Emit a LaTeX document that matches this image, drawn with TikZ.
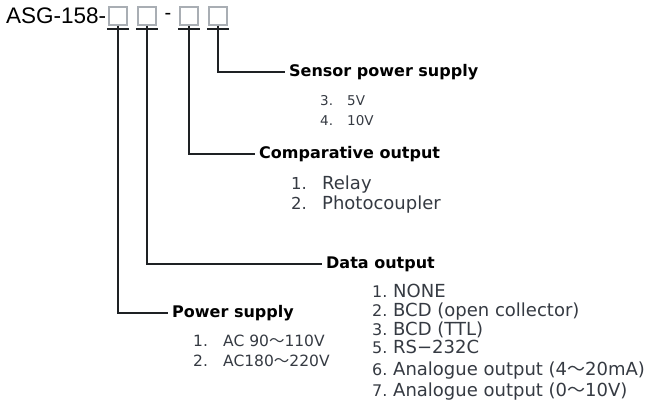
\documentclass[tikz,border=0pt]{standalone}
\usepackage{fontspec}
\usepackage{array}
\setmainfont{DejaVu Sans}
\newfontfamily\codefont{Liberation Sans}
\newfontfamily\cjkfont{Noto Sans CJK JP}
\newcommand{\wave}{{\cjkfont ～}}
\usetikzlibrary{positioning}
\definecolor{LineDark}{HTML}{1E2124}
\definecolor{BoxGray}{HTML}{A9AEB4}
\definecolor{ItemGray}{HTML}{353A42}

\begin{document}
\begin{tikzpicture}[
x=1pt,y=-1pt,
digit/.style={draw=BoxGray,line width=1.1pt,minimum width=18pt,minimum height=18pt,inner sep=0pt},
uline/.style={line width=2.4pt,LineDark},
conn/.style={line width=1.6pt,LineDark},
head/.style={font=\bfseries\fontsize{16}{19}\selectfont,inner sep=4pt,anchor=west},
items/.style={text=ItemGray,inner sep=0pt,anchor=base west}
]
\useasboundingbox (0,0) rectangle (650,407);
% model code
\node[font=\codefont\fontsize{22.5}{24}\selectfont,anchor=west,inner sep=0pt] (code) at (6,16) {ASG-158-};
\node[digit] (d1) at (118,16) {};
\node[digit] (d2) at (147,16) {};
\node[font=\codefont\fontsize{20}{22}\selectfont,inner sep=0pt] (dash) at (168,16) {-};
\node[digit] (d3) at (189,16) {};
\node[digit] (d4) at (218,16) {};
\foreach \d in {d1,d2,d3,d4}
  \draw[uline] ([xshift=-1.5pt,yshift=-3.5pt]\d.south west) -- ([xshift=1.5pt,yshift=-3.5pt]\d.south east);
% option headings
\node[head] (sensor) at (285,72) {Sensor power supply};
\node[head] (compout) at (255,154) {Comparative output};
\node[head] (dataout) at (322,264) {Data output};
\node[head] (power) at (168,313) {Power supply};
% option lists
\node[items,font=\fontsize{13.5}{20}\selectfont] (sensorlist) at (320,105) {%
  \begin{tabular}[t]{@{}p{27pt}@{}l@{}}3. & 5V\\ 4. & 10V\end{tabular}};
\node[items,font=\fontsize{18}{20}\selectfont] (complist) at (291,189.5) {%
  \begin{tabular}[t]{@{}>{\fontsize{16.5}{20}\selectfont}p{31pt}@{}l@{}}1. & Relay\\ 2. & Photocoupler\end{tabular}};
\node[items,font=\fontsize{18}{17.5}\selectfont] (datalist) at (372,297.5) {%
  \begin{tabular}[t]{@{}>{\fontsize{16}{17.5}\selectfont}p{21pt}@{}l@{}}1. & NONE\\ 2. & BCD (open collector)\\ 3. & BCD (TTL)\\
  5. & RS−232C\\[2.5pt] 6. & Analogue output (4\wave20mA)\\[2pt] 7. & Analogue output (0\wave10V)\end{tabular}};
\node[items,font=\fontsize{15.5}{20}\selectfont] (powerlist) at (193,346) {%
  \begin{tabular}[t]{@{}p{30pt}@{}l@{}}1. & AC 90\wave110V\\ 2. & AC180\wave220V\end{tabular}};
% leader lines
\draw[conn] (d4.south) |- (sensor.west);
\draw[conn] (d3.south) |- (compout.west);
\draw[conn] (d2.south) |- (dataout.west);
\draw[conn] (d1.south) |- (power.west);
\end{tikzpicture}
\end{document}
